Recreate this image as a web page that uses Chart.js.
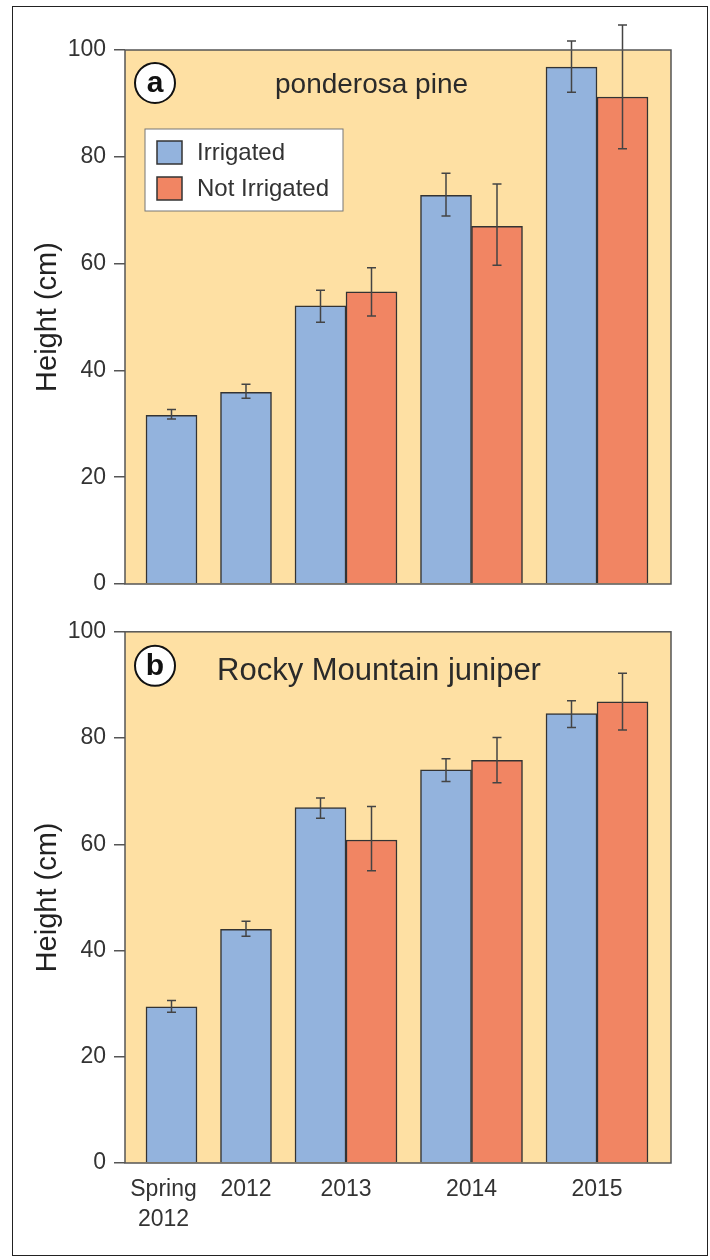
<!DOCTYPE html>
<html>
<head>
<meta charset="utf-8">
<script src="https://cdn.jsdelivr.net/npm/chart.js@4.4.1/dist/chart.umd.min.js"></script>
<style>
  body { margin: 0; background: #fff; }
  #wrap { position: relative; width: 710px; height: 1260px; }
  canvas { position: absolute; left: 0; }
  #pineCanvas { top: 0; }
  #juniperCanvas { top: 610px; }
  #frame { position: absolute; left: 12px; top: 6px; width: 694px; height: 1248px; border: 1.5px solid #222; pointer-events: none; }
</style>
</head>
<body>
<div id="wrap">
  <canvas id="pineCanvas" width="710" height="610"></canvas>
  <canvas id="juniperCanvas" width="710" height="650"></canvas>
  <div id="frame"></div>
</div>
<script>
const years = ['Spring 2012', '2012', '2013', '2014', '2015'];
const yearLabels = [['Spring', '2012'], '2012', '2013', '2014', '2015'];
const yTicks = [0, 20, 40, 60, 80, 100];

// (a) ponderosa pine: bar heights and whisker ends
const pineIrrigated = [31.6, 35.9, 52.1, 72.8, 96.8];
const pineIrrigatedLow = [30.9, 34.8, 49.0, 68.9, 92.1];
const pineIrrigatedHigh = [32.7, 37.4, 55.0, 76.9, 101.7];
const pineNotIrrigated = [null, null, 54.7, 67.0, 91.2];
const pineNotIrrigatedLow = [null, null, 50.2, 59.7, 81.5];
const pineNotIrrigatedHigh = [null, null, 59.2, 74.9, 104.7];

// (b) Rocky Mountain juniper
const juniperIrrigated = [29.4, 44.0, 66.9, 74.0, 84.6];
const juniperIrrigatedLow = [28.4, 42.7, 64.9, 71.8, 82.0];
const juniperIrrigatedHigh = [30.6, 45.5, 68.7, 76.1, 87.0];
const juniperNotIrrigated = [null, null, 60.8, 75.8, 86.8];
const juniperNotIrrigatedLow = [null, null, 55.0, 71.6, 81.5];
const juniperNotIrrigatedHigh = [null, null, 67.1, 80.1, 92.2];

const BLUE = '#93b3dd';
const ORANGE = '#f18563';
const PANEL_BG = '#fee0a3';
const FONT = '"Liberation Sans", Arial, Helvetica, sans-serif';

// bar layout along the x axis (1 unit = 1 px of plot width)
const BAR_W = 51;
const GAP = 23.5;
const EDGE = 21;

function groupLayout(second) {
  const out = [];
  let x = EDGE;
  second.forEach(v => {
    const n = v == null ? 1 : 2;
    out.push({ left: x, center: x + n * BAR_W / 2, n });
    x += n * BAR_W + GAP;
  });
  return out;
}

const panelDecor = {
  id: 'panelDecor',
  beforeDraw(chart) {
    const { ctx, chartArea: a } = chart;
    ctx.save();
    ctx.fillStyle = PANEL_BG;
    ctx.fillRect(a.left, a.top, a.right - a.left, a.bottom - a.top);
    ctx.restore();
  },
  afterDatasetsDraw(chart) {
    const { ctx, chartArea: a } = chart;
    const yScale = chart.scales.y;
    const o = chart.options.plugins.panelDecor;

    // error bars
    ctx.save();
    ctx.strokeStyle = '#444';
    ctx.lineWidth = 1.5;
    chart.data.datasets.forEach((ds, i) => {
      chart.getDatasetMeta(i).data.forEach((bar, j) => {
        const p = ds.data[j];
        const y1 = yScale.getPixelForValue(p.hi);
        const y2 = yScale.getPixelForValue(p.lo);
        ctx.beginPath();
        ctx.moveTo(bar.x, y1); ctx.lineTo(bar.x, y2);
        ctx.moveTo(bar.x - 4.5, y1); ctx.lineTo(bar.x + 4.5, y1);
        ctx.moveTo(bar.x - 4.5, y2); ctx.lineTo(bar.x + 4.5, y2);
        ctx.stroke();
      });
    });
    ctx.restore();

    // plot frame
    ctx.save();
    ctx.strokeStyle = '#555';
    ctx.lineWidth = 1.5;
    ctx.strokeRect(a.left, a.top, a.right - a.left, a.bottom - a.top);
    ctx.restore();

    // panel letter in a circle
    ctx.save();
    ctx.beginPath();
    ctx.arc(a.left + 30, a.top + o.letterY, 20, 0, Math.PI * 2);
    ctx.fillStyle = '#fff';
    ctx.fill();
    ctx.lineWidth = 2;
    ctx.strokeStyle = '#111';
    ctx.stroke();
    ctx.fillStyle = '#111';
    ctx.font = 'bold 30px ' + FONT;
    ctx.textAlign = 'center';
    ctx.textBaseline = 'middle';
    ctx.fillText(o.letter, a.left + 30, a.top + o.letterY + 1);

    // panel title
    ctx.fillStyle = '#2a2a2a';
    ctx.font = o.titleSize + 'px ' + FONT;
    ctx.textAlign = 'left';
    ctx.textBaseline = 'alphabetic';
    ctx.fillText(o.title, o.titleX, a.top + o.titleBase);
    ctx.restore();

    // legend box
    if (o.legend) {
      ctx.save();
      const lx = a.left + 20, ly = a.top + 79;
      ctx.fillStyle = '#fff';
      ctx.fillRect(lx, ly, 198, 82);
      ctx.strokeStyle = '#777';
      ctx.lineWidth = 1;
      ctx.strokeRect(lx, ly, 198, 82);
      chart.data.datasets.forEach((ds, i) => {
        const sy = ly + 12 + i * 36;
        ctx.fillStyle = ds.backgroundColor;
        ctx.fillRect(lx + 12, sy, 25, 23);
        ctx.strokeStyle = '#333';
        ctx.lineWidth = 1.5;
        ctx.strokeRect(lx + 12, sy, 25, 23);
        ctx.fillStyle = '#333';
        ctx.font = '24px ' + FONT;
        ctx.textBaseline = 'middle';
        ctx.fillText(ds.label, lx + 52, sy + 12);
      });
      ctx.restore();
    }
  }
};

function makePanel(canvasId, irr, irrLo, irrHi, notIrr, notLo, notHi, cfg) {
  const layout = groupLayout(notIrr);
  const irrData = irr.map((v, i) => ({
    x: layout[i].n === 1 ? layout[i].center : layout[i].center - BAR_W / 2,
    y: v, lo: irrLo[i], hi: irrHi[i]
  }));
  const notIrrData = [];
  notIrr.forEach((v, i) => {
    if (v != null) notIrrData.push({ x: layout[i].center + BAR_W / 2, y: v, lo: notLo[i], hi: notHi[i] });
  });
  const tickPos = layout.map((g, i) => i === 0 ? g.center - 8 : g.center);

  return new Chart(document.getElementById(canvasId), {
    type: 'bar',
    data: {
      datasets: [
        { label: 'Irrigated', data: irrData, backgroundColor: BLUE, borderColor: '#333', borderWidth: 1.5 },
        { label: 'Not Irrigated', data: notIrrData, backgroundColor: ORANGE, borderColor: '#333', borderWidth: 1.5 }
      ]
    },
    options: {
      responsive: false,
      animation: false,
      devicePixelRatio: 1,
      grouped: false,
      barThickness: BAR_W,
      layout: { padding: cfg.padding },
      plugins: {
        legend: { display: false },
        tooltip: { enabled: false },
        panelDecor: cfg.decor
      },
      scales: {
        x: {
          type: 'linear',
          display: cfg.showX,
          offset: false,
          min: 0,
          max: 546,
          grid: { display: false, drawTicks: false },
          border: { display: false },
          afterBuildTicks: s => { s.ticks = tickPos.map(v => ({ value: v })); },
          afterFit: s => { s.height = cfg.showX ? 80 : 0; },
          ticks: {
            autoSkip: false,
            maxRotation: 0,
            padding: 12,
            color: '#333',
            font: { family: FONT, size: 23, lineHeight: 1.3 },
            callback: (v, i) => yearLabels[i]
          }
        },
        y: {
          min: 0,
          max: 100,
          afterBuildTicks: s => { s.ticks = yTicks.map(v => ({ value: v })); },
          afterFit: s => { s.width = 98; },
          grid: { drawOnChartArea: false, drawTicks: true, tickLength: 11, color: '#555', lineWidth: 1.5 },
          border: { display: false },
          ticks: { padding: 8, color: '#333', font: { family: FONT, size: 23 } },
          title: { display: true, text: 'Height (cm)', color: '#222', font: { family: FONT, size: 29 } }
        }
      }
    },
    plugins: [panelDecor]
  });
}

makePanel('pineCanvas', pineIrrigated, pineIrrigatedLow, pineIrrigatedHigh,
  pineNotIrrigated, pineNotIrrigatedLow, pineNotIrrigatedHigh, {
  padding: { left: 27, top: 50, right: 39, bottom: 26 },
  showX: false,
  decor: { letter: 'a', letterY: 33, title: 'ponderosa pine', titleSize: 28, titleX: 275, titleBase: 43, legend: true }
});

makePanel('juniperCanvas', juniperIrrigated, juniperIrrigatedLow, juniperIrrigatedHigh,
  juniperNotIrrigated, juniperNotIrrigatedLow, juniperNotIrrigatedHigh, {
  padding: { left: 27, top: 19, right: 39, bottom: 17 },
  showX: true,
  decor: { letter: 'b', letterY: 34, title: 'Rocky Mountain juniper', titleSize: 31, titleX: 217, titleBase: 48, legend: false }
});
</script>
</body>
</html>
